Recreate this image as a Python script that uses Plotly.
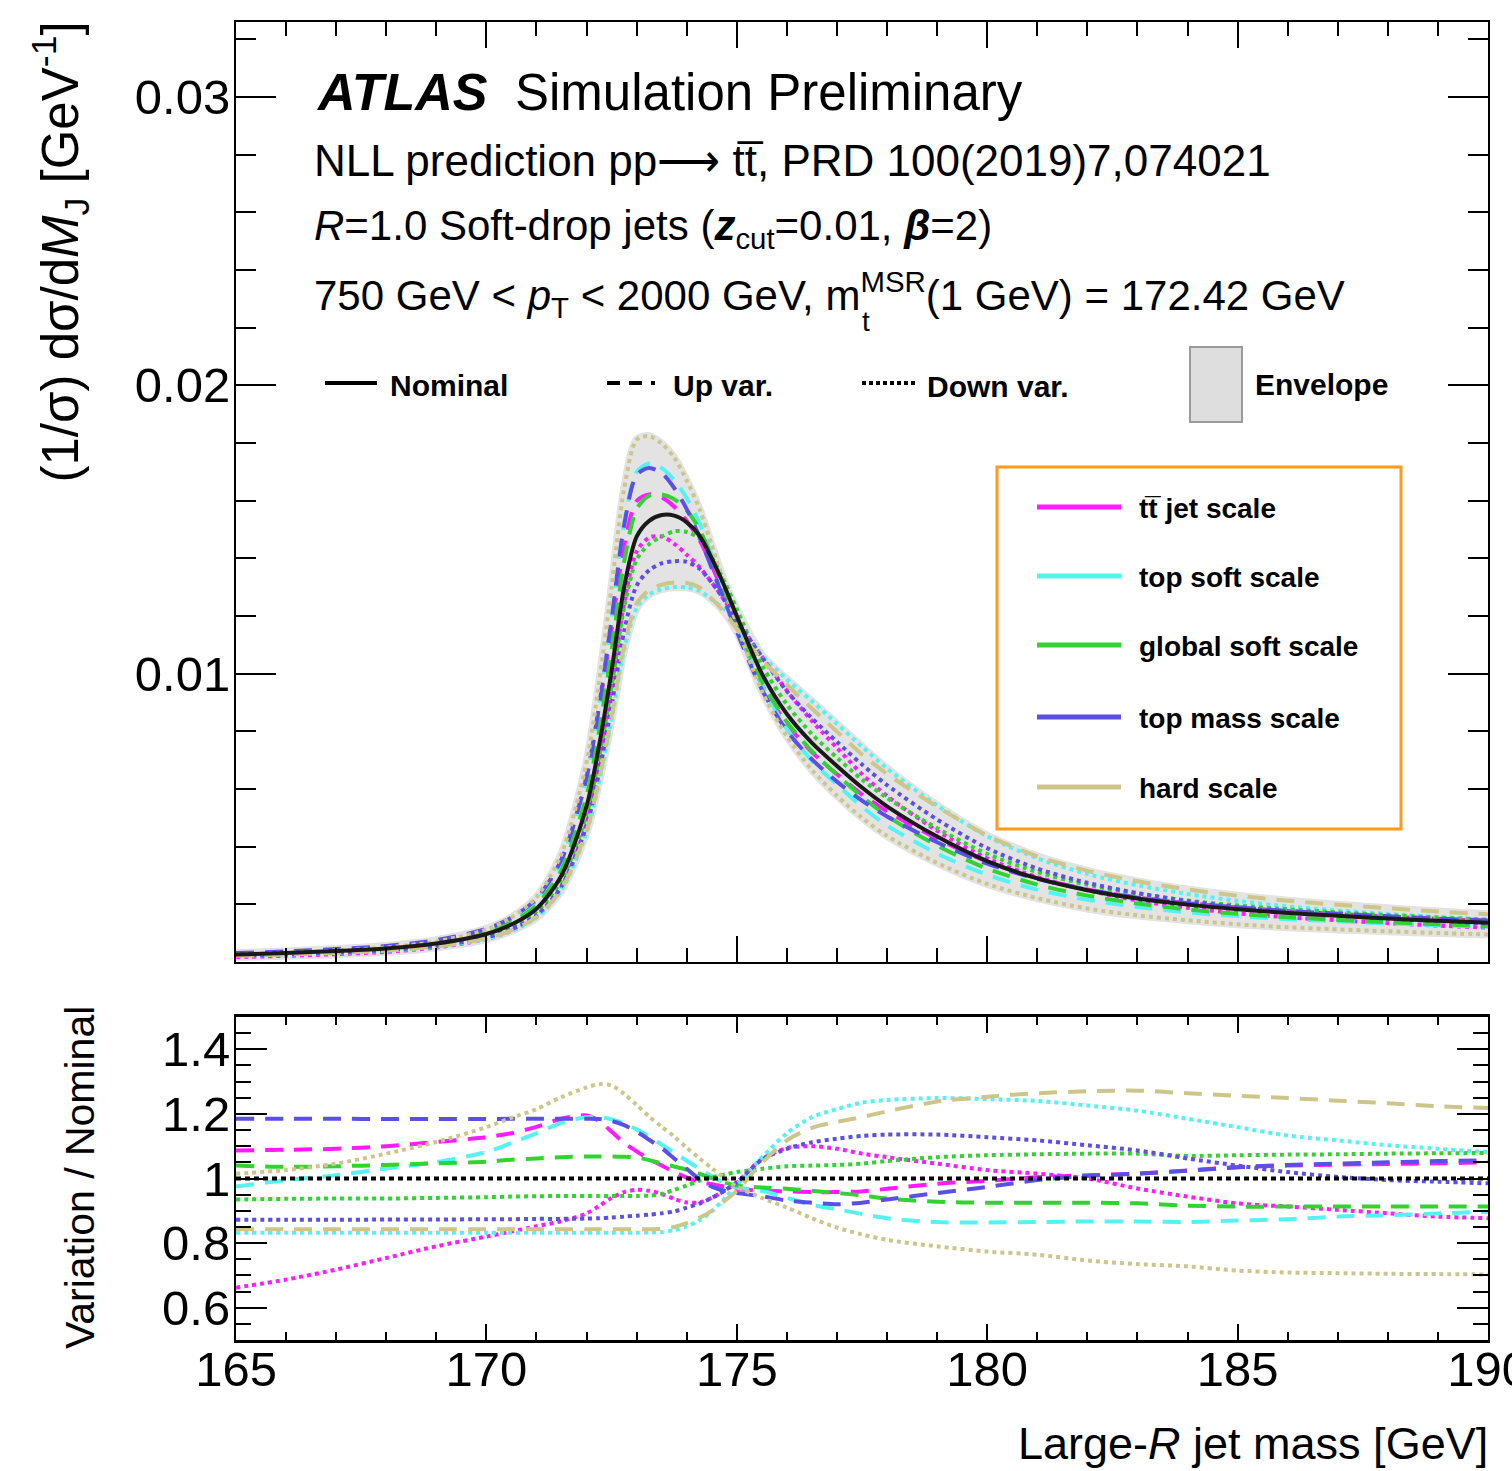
import numpy as np
import plotly.graph_objects as go

# ---------------------------------------------------------------- data
mass_gev = [165, 166, 167, 168, 169, 170, 170.5, 171, 171.5, 172, 172.25, 172.5,
            172.75, 173, 173.25, 173.5, 173.75, 174, 174.25, 174.5, 174.75, 175,
            175.5, 176, 176.5, 177, 177.5, 178, 179, 180, 181, 182, 183, 184, 185,
            186, 187, 188, 189, 190]

# normalised NLL distribution, nominal scale choice [1/GeV]
nominal = [0.00026, 0.00031, 0.00038, 0.00047, 0.00064, 0.00097, 0.00130, 0.00185,
           0.00300, 0.00540, 0.00750, 0.01010, 0.01300, 0.01475, 0.01530, 0.01550,
           0.01548, 0.01525, 0.01480, 0.01400, 0.01305, 0.01200, 0.01000, 0.00860,
           0.00760, 0.00680, 0.00605, 0.00540, 0.00435, 0.00350, 0.00290, 0.00249,
           0.00220, 0.00199, 0.00183, 0.00170, 0.00160, 0.00151, 0.00143, 0.00136]

# scale variations, as ratio to nominal
ttjet_up = [1.087, 1.089, 1.092, 1.100, 1.113, 1.128, 1.140, 1.160, 1.185, 1.195,
            1.178, 1.145, 1.110, 1.084, 1.060, 1.040, 1.020, 1.003, 0.990, 0.982,
            0.975, 0.968, 0.962, 0.960, 0.958, 0.958, 0.960, 0.968, 0.984, 0.993,
            1.004, 1.010, 1.015, 1.025, 1.035, 1.040, 1.043, 1.045, 1.047, 1.050]
ttjet_down = [0.662, 0.687, 0.718, 0.754, 0.790, 0.820, 0.836, 0.852, 0.868, 0.892,
              0.915, 0.940, 0.958, 0.965, 0.962, 0.952, 0.937, 0.926, 0.926, 0.940,
              0.962, 0.987, 1.060, 1.094, 1.100, 1.092, 1.077, 1.066, 1.046, 1.026,
              1.015, 1.000, 0.969, 0.944, 0.923, 0.913, 0.903, 0.892, 0.882, 0.877]
topsoft_up = [0.975, 0.995, 1.010, 1.031, 1.051, 1.082, 1.110, 1.140, 1.172, 1.190,
              1.190, 1.183, 1.170, 1.152, 1.130, 1.105, 1.080, 1.055, 1.030, 1.007,
              0.987, 0.972, 0.962, 0.940, 0.918, 0.905, 0.890, 0.877, 0.865, 0.864,
              0.865, 0.867, 0.867, 0.865, 0.870, 0.874, 0.882, 0.886, 0.892, 0.897]
topsoft_down = [0.832, 0.832, 0.832, 0.832, 0.832, 0.832, 0.832, 0.832, 0.832, 0.832,
                0.832, 0.832, 0.832, 0.832, 0.833, 0.834, 0.840, 0.852, 0.870, 0.898,
                0.938, 0.980, 1.065, 1.140, 1.190, 1.215, 1.235, 1.243, 1.249, 1.246,
                1.240, 1.226, 1.210, 1.185, 1.159, 1.133, 1.118, 1.103, 1.092, 1.082]
globalsoft_up = [1.040, 1.036, 1.038, 1.042, 1.047, 1.052, 1.058, 1.062, 1.066, 1.068,
                 1.068, 1.068, 1.067, 1.065, 1.057, 1.046, 1.037, 1.027, 1.015, 1.001,
                 0.988, 0.978, 0.972, 0.968, 0.962, 0.955, 0.948, 0.938, 0.928, 0.925,
                 0.925, 0.925, 0.923, 0.916, 0.913, 0.913, 0.913, 0.913, 0.913, 0.913]
globalsoft_down = [0.935, 0.937, 0.938, 0.938, 0.940, 0.942, 0.944, 0.945, 0.946, 0.946,
                   0.946, 0.946, 0.946, 0.946, 0.947, 0.952, 0.965, 0.978, 0.993, 1.003,
                   1.012, 1.020, 1.030, 1.038, 1.040, 1.042, 1.046, 1.054, 1.066, 1.072,
                   1.075, 1.077, 1.077, 1.070, 1.072, 1.074, 1.075, 1.077, 1.078, 1.079]
topmass_up = [1.185, 1.185, 1.185, 1.184, 1.184, 1.184, 1.185, 1.185, 1.185, 1.185,
              1.184, 1.178, 1.165, 1.145, 1.120, 1.094, 1.062, 1.030, 0.998, 0.975,
              0.962, 0.955, 0.945, 0.932, 0.925, 0.920, 0.925, 0.935, 0.955, 0.974,
              0.995, 1.008, 1.015, 1.024, 1.035, 1.042, 1.046, 1.050, 1.054, 1.056]
topmass_down = [0.872, 0.872, 0.872, 0.873, 0.873, 0.874, 0.874, 0.875, 0.875, 0.876,
                0.877, 0.879, 0.882, 0.885, 0.888, 0.892, 0.898, 0.910, 0.922, 0.940,
                0.962, 0.988, 1.058, 1.092, 1.112, 1.123, 1.132, 1.136, 1.136, 1.128,
                1.118, 1.103, 1.087, 1.062, 1.040, 1.020, 1.005, 0.995, 0.990, 0.985]
hard_up = [0.843, 0.843, 0.843, 0.843, 0.843, 0.843, 0.843, 0.843, 0.843, 0.843,
           0.843, 0.843, 0.843, 0.843, 0.843, 0.844, 0.850, 0.862, 0.878, 0.900,
           0.930, 0.962, 1.048, 1.118, 1.157, 1.175, 1.190, 1.208, 1.238, 1.253,
           1.264, 1.270, 1.272, 1.264, 1.256, 1.249, 1.241, 1.233, 1.224, 1.218]
hard_down = [1.015, 1.026, 1.046, 1.077, 1.113, 1.159, 1.188, 1.215, 1.252, 1.282,
             1.292, 1.288, 1.262, 1.228, 1.192, 1.160, 1.130, 1.095, 1.063, 1.032,
             1.002, 0.975, 0.940, 0.910, 0.877, 0.848, 0.827, 0.810, 0.790, 0.774,
             0.764, 0.746, 0.735, 0.728, 0.715, 0.709, 0.707, 0.705, 0.704, 0.703]

scale_names = ["tt\u0305 jet scale", "top soft scale", "global soft scale",
               "top mass scale", "hard scale"]
scale_colors = ["#ff1aff", "#55f2f2", "#33d233", "#5b50e6", "#cdc68a"]
scale_up = [ttjet_up, topsoft_up, globalsoft_up, topmass_up, hard_up]
scale_down = [ttjet_down, topsoft_down, globalsoft_down, topmass_down, hard_down]

mass_ticks = [165, 170, 175, 180, 185, 190]

# ---------------------------------------------------------------- geometry
W, H = 1512, 1471
ML, MR, MT, MB = 236, 24, 22, 131
FONT = "Liberation Sans, Arial, Helvetica, sans-serif"


def fx(px):
    return (px - ML) / (W - ML - MR)


def fy(py):
    return (H - MB - py) / (H - MT - MB)


SPL = dict(shape="spline", smoothing=0.8)
DASH = "18px,11px"
DOT = "4px,4px"

fig = go.Figure()

nom = np.array(nominal)
var_main = []
for up, down in zip(scale_up, scale_down):
    var_main.append(nom * np.array(up))
    var_main.append(nom * np.array(down))
env_lo = np.min(np.vstack(var_main + [nom]), axis=0)
env_hi = np.max(np.vstack(var_main + [nom]), axis=0)

# envelope band
fig.add_trace(go.Scatter(x=mass_gev, y=env_lo, mode="lines",
                         line=dict(color="#e3e3e3", width=8, **SPL),
                         hoverinfo="skip", showlegend=False))
fig.add_trace(go.Scatter(x=mass_gev, y=env_hi, mode="lines", fill="tonexty",
                         fillcolor="#e3e3e3",
                         line=dict(color="#e3e3e3", width=8, **SPL),
                         hoverinfo="skip", showlegend=False))

# variations: upper panel (distribution) and lower panel (ratio)
for name, color, up, down in zip(scale_names, scale_colors, scale_up, scale_down):
    for vals, dash in ((up, DASH), (down, DOT)):
        fig.add_trace(go.Scatter(x=mass_gev, y=nom * np.array(vals), mode="lines",
                                 line=dict(color=color, width=4, dash=dash, **SPL),
                                 name=name, showlegend=False,
                                 xaxis="x", yaxis="y"))
        fig.add_trace(go.Scatter(x=mass_gev, y=vals, mode="lines",
                                 line=dict(color=color, width=4, dash=dash, **SPL),
                                 name=name, showlegend=False,
                                 xaxis="x2", yaxis="y2"))

# nominal
fig.add_trace(go.Scatter(x=mass_gev, y=nominal, mode="lines",
                         line=dict(color="#1a1a1a", width=4, **SPL),
                         name="Nominal", showlegend=False, xaxis="x", yaxis="y"))
fig.add_trace(go.Scatter(x=mass_gev, y=nom / nom, mode="lines",
                         line=dict(color="black", width=4, dash="5px,4px"),
                         name="Nominal", showlegend=False, xaxis="x2", yaxis="y2"))

axis_common = dict(showline=True, linecolor="black", linewidth=2, mirror="ticks",
                   ticks="inside", tickcolor="black", tickwidth=2,
                   showgrid=False, zeroline=False, automargin=False,
                   ticklabeloverflow="allow",
                   tickfont=dict(family=FONT, size=49, color="black"))

fig.update_layout(
    width=W, height=H,
    margin=dict(l=ML, r=MR, t=MT, b=MB, autoexpand=False),
    paper_bgcolor="white", plot_bgcolor="white",
    showlegend=False,
    xaxis=dict(axis_common, range=[165, 190], anchor="y", domain=[0, 1],
               tickmode="array", tickvals=mass_ticks, ticklen=26,
               showticklabels=False,
               minor=dict(tickmode="linear", dtick=1, tick0=165, ticklen=14,
                          ticks="inside", tickcolor="black", tickwidth=2)),
    yaxis=dict(axis_common, range=[0, 0.0326], anchor="x", domain=[fy(962), 1],
               tickmode="array", tickvals=[0.01, 0.02, 0.03],
               ticktext=["0.01", "0.02", "0.03"], ticklen=40,
               ticklabelstandoff=-6,
               minor=dict(tickmode="linear", tick0=0, dtick=0.002, ticklen=20,
                          ticks="inside", tickcolor="black", tickwidth=2)),
    xaxis2=dict(axis_common, range=[165, 190], anchor="y2", domain=[0, 1],
                matches="x", tickmode="array", tickvals=mass_ticks,
                ticktext=[str(v) for v in mass_ticks], ticklen=16, linewidth=3,
                ticklabelstandoff=-16,
                minor=dict(tickmode="linear", dtick=1, tick0=165, ticklen=8,
                           ticks="inside", tickcolor="black", tickwidth=2)),
    yaxis2=dict(axis_common, range=[0.5, 1.5], anchor="x2", domain=[0, fy(1017)],
                tickmode="array", tickvals=[0.6, 0.8, 1.0, 1.2, 1.4],
                ticktext=["0.6", "0.8", "1", "1.2", "1.4"], ticklen=31,
                ticklabelstandoff=-6,
                minor=dict(tickmode="linear", tick0=0.5, dtick=0.05, ticklen=15,
                           ticks="inside", tickcolor="black", tickwidth=2)),
)

annotations = []


def text(px, py, s, size, xanchor="left", yanchor="middle", angle=0, bold=False):
    if bold:
        s = "<b>" + s + "</b>"
    annotations.append(dict(x=fx(px), y=fy(py), xref="paper", yref="paper",
                            text=s, showarrow=False, xanchor=xanchor,
                            yanchor=yanchor, textangle=angle,
                            font=dict(family=FONT, size=size, color="black")))


# axis titles
text(60, 20, "(1/\u03c3) d\u03c3/d<i>M</i><sub>J</sub> [GeV<sup>-1</sup>]", 51,
     xanchor="center", yanchor="top", angle=-90)
text(80, 1178, "Variation / Nominal", 41, xanchor="center", angle=-90)
text(1490, 1443, "Large-<i>R</i> jet mass [GeV]", 45, xanchor="right")

# header
text(314, 92, "<b><i>ATLAS</i></b>", 52)
text(513, 92, "Simulation Preliminary", 51)
text(312, 160, "NLL prediction pp\u27f6 tt\u0305, PRD 100(2019)7,074021", 44)
text(312, 228, "<i>R</i>=1.0 Soft-drop jets (<b><i>z</i></b><sub>cut</sub>=0.01, "
     "<b><i>\u03b2</i></b>=2)", 42)
text(312, 294, "750 GeV &lt; <i>p</i><sub>T</sub> &lt; 2000 GeV, m<sup>MSR</sup>"
     "(1 GeV) = 172.42 GeV", 42)
text(866, 322, "t", 28, xanchor="center")

# style key
shapes = []


def seg(x0, x1, y, color, dash="solid", width=4):
    shapes.append(dict(type="line", xref="paper", yref="paper",
                       x0=fx(x0), x1=fx(x1), y0=fy(y), y1=fy(y),
                       line=dict(color=color, width=width, dash=dash)))


seg(325, 377, 383, "black")
text(388, 385, "Nominal", 30, bold=True)
seg(607, 655, 383, "black", dash="13px,9px")
text(671, 385, "Up var.", 30, bold=True)
seg(862, 915, 383, "black", dash="4px,3px")
text(925, 386, "Down var.", 30, bold=True)
shapes.append(dict(type="rect", xref="paper", yref="paper",
                   x0=fx(1190), x1=fx(1242), y0=fy(422), y1=fy(347),
                   fillcolor="#dedede", line=dict(color="#9a9a9a", width=2)))
text(1253, 384, "Envelope", 30, bold=True)

# colour key
shapes.append(dict(type="rect", xref="paper", yref="paper",
                   x0=fx(997), x1=fx(1401), y0=fy(829), y1=fy(467),
                   line=dict(color="#ff9a1a", width=3)))
for i, (name, color) in enumerate(zip(scale_names, scale_colors)):
    ypix = [507, 576, 645, 717, 787][i]
    seg(1037, 1121, ypix, color, width=5)
    text(1137, ypix + 1, name, 28, bold=True)

fig.update_layout(annotations=annotations, shapes=shapes)
fig.write_html("out.html")
